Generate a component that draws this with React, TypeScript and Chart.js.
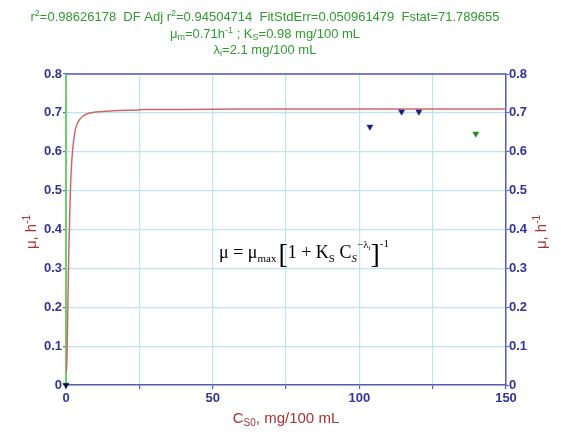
import React, { useEffect, useRef } from "react";
import { Chart, registerables } from "chart.js";
Chart.register(...registerables);

// Fitted curve readings (C_S0, mu)
const curveC = [0.05, 0.3, 0.5, 0.8, 1, 1.5, 2, 3, 4, 6, 10, 15, 20, 24, 26, 40, 60, 80, 100, 120, 150];
const curveMu = [0.03, 0.06, 0.14, 0.28, 0.36, 0.5, 0.58, 0.65, 0.675, 0.693, 0.702, 0.705, 0.707, 0.707, 0.709, 0.709, 0.71, 0.71, 0.71, 0.71, 0.71];
// Observed points
const obsC = [0, 103.6, 114.4, 120.3];
const obsMu = [0, 0.664, 0.703, 0.703];
const obsColors = ["#111133", "#1c1c7a", "#1c1c7a", "#1c1c7a"];
const extraC = [139.7];
const extraMu = [0.646];
const xLabelValues = [0, 50, 100, 150];

const SANS = "Arial, 'Liberation Sans', sans-serif";
const SERIF = "'Times New Roman', 'Liberation Serif', serif";
const GREEN_TXT = "#2f9a2f";
const RED_TXT = "#a83232";
const BLUE_TXT = "#333399";

type Seg = { t: string; size: number; dy?: number; italic?: boolean };

function richWidth(ctx: CanvasRenderingContext2D, segs: Seg[], family: string) {
  let w = 0;
  for (const s of segs) {
    ctx.font = `${s.italic ? "italic " : ""}${s.size}px ${family}`;
    w += ctx.measureText(s.t).width;
  }
  return w;
}

function drawRich(
  ctx: CanvasRenderingContext2D,
  segs: Seg[],
  x: number,
  y: number,
  align: "center" | "left",
  color: string,
  family: string
) {
  const total = richWidth(ctx, segs, family);
  let cx = align === "center" ? x - total / 2 : x;
  ctx.fillStyle = color;
  ctx.textAlign = "left";
  ctx.textBaseline = "alphabetic";
  for (const s of segs) {
    ctx.font = `${s.italic ? "italic " : ""}${s.size}px ${family}`;
    ctx.fillText(s.t, cx, y + (s.dy || 0));
    cx += ctx.measureText(s.t).width;
  }
}

const title1: Seg[] = [
  { t: "r", size: 13 },
  { t: "2", size: 9, dy: -5 },
  { t: "=0.98626178  DF Adj r", size: 13 },
  { t: "2", size: 9, dy: -5 },
  { t: "=0.94504714  FitStdErr=0.050961479  Fstat=71.789655", size: 13 },
];
const title2: Seg[] = [
  { t: "μ", size: 13 },
  { t: "m", size: 9, dy: 2 },
  { t: "=0.71h", size: 13 },
  { t: "-1", size: 9, dy: -5 },
  { t: " ; K", size: 13 },
  { t: "S", size: 9, dy: 2 },
  { t: "=0.98 mg/100 mL", size: 13 },
];
const title3: Seg[] = [
  { t: "λ", size: 13 },
  { t: "i", size: 9, dy: 2 },
  { t: "=2.1 mg/100 mL", size: 13 },
];
const equation: Seg[] = [
  { t: "μ = μ", size: 18 },
  { t: "max", size: 11, dy: 4 },
  { t: " ", size: 8 },
  { t: "[", size: 28, dy: 5 },
  { t: "1 + K", size: 18 },
  { t: "S", size: 11, dy: 4 },
  { t: " C", size: 18 },
  { t: "S", size: 11, dy: 4, italic: true },
  { t: "−λ", size: 11, dy: -10 },
  { t: "i", size: 7, dy: -8 },
  { t: "]", size: 28, dy: 5 },
  { t: "-1", size: 11, dy: -11 },
];
const xTitle: Seg[] = [
  { t: "C", size: 15 },
  { t: "S0", size: 10, dy: 3 },
  { t: ", mg/100 mL", size: 15 },
];
const yTitle: Seg[] = [
  { t: "μ, h", size: 15 },
  { t: "-1", size: 10, dy: -6 },
];

const decorPlugin = {
  id: "decor",
  beforeDraw(chart: any) {
    const ctx = chart.ctx as CanvasRenderingContext2D;
    ctx.save();
    ctx.fillStyle = "#ffffff";
    ctx.fillRect(0, 0, chart.width, chart.height);
    ctx.restore();
  },
  afterDraw(chart: any) {
    const ctx = chart.ctx as CanvasRenderingContext2D;
    const a = chart.chartArea;
    ctx.save();
    // top border
    ctx.strokeStyle = "#5a5ab4";
    ctx.lineWidth = 1.5;
    ctx.beginPath();
    ctx.moveTo(a.left, a.top);
    ctx.lineTo(a.right, a.top);
    ctx.stroke();
    // titles
    drawRich(ctx, title1, 265, 21, "center", GREEN_TXT, SANS);
    drawRich(ctx, title2, 265, 38, "center", GREEN_TXT, SANS);
    drawRich(ctx, title3, 265, 54, "center", GREEN_TXT, SANS);
    // equation
    drawRich(ctx, equation, 219, 258, "left", "#000000", SERIF);
    // x title
    drawRich(ctx, xTitle, (a.left + a.right) / 2, 423, "center", RED_TXT, SANS);
    // y titles
    for (const cx of [31, 541]) {
      ctx.save();
      ctx.translate(cx, 232);
      ctx.rotate(-Math.PI / 2);
      drawRich(ctx, yTitle, 0, 5, "center", RED_TXT, SANS);
      ctx.restore();
    }
    ctx.restore();
  },
};

export default function App() {
  const ref = useRef<HTMLCanvasElement | null>(null);
  useEffect(() => {
    document.body.style.margin = "0";
    if (!ref.current) return;
    const tickFont = { family: SANS, size: 13, weight: "bold" as const };
    const chart = new Chart(ref.current, {
      type: "scatter",
      data: {
        datasets: [
          {
            data: obsC.map((c, i) => ({ x: c, y: obsMu[i] })),
            pointStyle: "triangle",
            rotation: 180,
            pointRadius: 3.5,
            backgroundColor: obsColors,
            borderColor: obsColors,
            borderWidth: 0.5,
            clip: false as any,
            order: 0,
          },
          {
            data: extraC.map((c, i) => ({ x: c, y: extraMu[i] })),
            pointStyle: "triangle",
            rotation: 180,
            pointRadius: 3.5,
            backgroundColor: "#1f8a1f",
            borderColor: "#1f8a1f",
            borderWidth: 0.5,
            order: 0,
          },
          {
            data: curveC.map((c, i) => ({ x: c, y: curveMu[i] })),
            showLine: true,
            pointRadius: 0,
            borderColor: "#cc6a6a",
            borderWidth: 1.5,
            cubicInterpolationMode: "monotone",
            order: 1,
          } as any,
        ],
      },
      options: {
        responsive: false,
        animation: false,
        layout: { padding: { top: 74, left: 0, right: 0, bottom: 0 } },
        plugins: { legend: { display: false }, tooltip: { enabled: false }, title: { display: false } },
        scales: {
          x: {
            type: "linear",
            position: "bottom",
            min: 0,
            max: 150,
            ticks: {
              stepSize: 25,
              autoSkip: false,
              maxRotation: 0,
              font: tickFont,
              color: BLUE_TXT,
              padding: 2,
              callback: (v: any) => (xLabelValues.includes(Number(v)) ? String(v) : ""),
            },
            grid: { color: "#bfe6e6", tickColor: "#5a5ab4", tickLength: 4, lineWidth: 1.2 },
            border: { color: "#5a5ab4", width: 1.5 },
            afterFit: (s: any) => {
              s.height = 47;
            },
          },
          y: {
            type: "linear",
            position: "left",
            min: 0,
            max: 0.8,
            ticks: {
              stepSize: 0.1,
              font: tickFont,
              color: BLUE_TXT,
              padding: 1,
              callback: (v: any) => (Number(v) === 0 ? "0" : Number(v).toFixed(1)),
            },
            grid: { color: "#bfe6e6", tickColor: "#5a5ab4", tickLength: 3, lineWidth: 1.2 },
            border: { color: "#6fcf6f", width: 2 },
            afterFit: (s: any) => {
              s.width = 66;
            },
          },
          y2: {
            type: "linear",
            position: "right",
            min: 0,
            max: 0.8,
            ticks: {
              stepSize: 0.1,
              font: tickFont,
              color: BLUE_TXT,
              padding: 0,
              callback: (v: any) => (Number(v) === 0 ? "0" : Number(v).toFixed(1)),
            },
            grid: { drawOnChartArea: false, tickColor: "#5a5ab4", tickLength: 3 },
            border: { color: "#5a5ab4", width: 1.5 },
            afterFit: (s: any) => {
              s.width = 55;
            },
          },
        },
      },
      plugins: [decorPlugin],
    });
    return () => chart.destroy();
  }, []);
  return <canvas ref={ref} width={561} height={432} style={{ display: "block", width: 561, height: 432 }} />;
}
